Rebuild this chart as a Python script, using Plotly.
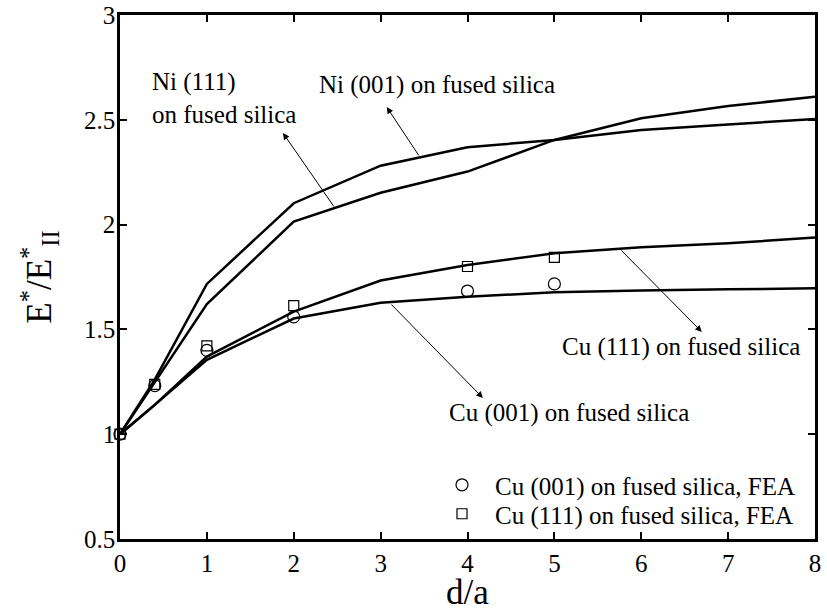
import plotly.graph_objects as go

# ---- data ----
x_model = [0, 0.4, 1, 2, 3, 4, 5, 6, 7, 8]
ni001 = [1.0, 1.26, 1.717, 2.102, 2.281, 2.369, 2.404, 2.451, 2.478, 2.504]
ni111 = [1.0, 1.25, 1.621, 2.014, 2.152, 2.253, 2.404, 2.507, 2.566, 2.610]
cu111 = [1.0, 1.14, 1.370, 1.585, 1.733, 1.807, 1.863, 1.892, 1.911, 1.938]
cu001 = [1.0, 1.14, 1.355, 1.552, 1.627, 1.656, 1.677, 1.686, 1.691, 1.696]

x_fea = [0, 0.4, 1, 2, 4, 5]
cu001_fea = [1.0, 1.232, 1.400, 1.560, 1.683, 1.717]
cu111_fea = [1.0, 1.238, 1.421, 1.613, 1.800, 1.844]

x_ticks = [0, 1, 2, 3, 4, 5, 6, 7, 8]
y_ticks = [0.5, 1, 1.5, 2, 2.5, 3]

FONT = "Liberation Serif"

fig = go.Figure()
line_style = dict(color="black", width=2.5)
for yv in (ni001, ni111, cu111, cu001):
    fig.add_trace(go.Scatter(x=x_model, y=yv, mode="lines", line=line_style,
                             showlegend=False, hoverinfo="skip"))

fig.add_trace(go.Scatter(x=x_fea, y=cu001_fea, mode="markers",
                         name="Cu (001) on fused silica, FEA", legend="legend",
                         marker=dict(symbol="circle-open", size=12, color="black",
                                     line=dict(width=1.2, color="black")),
                         cliponaxis=False))
fig.add_trace(go.Scatter(x=x_fea, y=cu111_fea, mode="markers",
                         name="Cu (111) on fused silica, FEA", legend="legend2",
                         marker=dict(symbol="square-open", size=10, color="black",
                                     line=dict(width=1.2, color="black")),
                         cliponaxis=False))

# text labels
labels = [
    ("Ni (001) on fused silica", 2.267, 2.666),
    ("Ni (111)<br>on fused silica", 0.345, 2.606),
    ("Cu (111) on fused silica", 5.063, 1.416),
    ("Cu (001) on fused silica", 3.763, 1.101),
]
for txt, tx, ty in labels:
    fig.add_annotation(x=tx, y=ty, xref="x", yref="y", text=txt, showarrow=False,
                       xanchor="left", yanchor="middle", align="left",
                       font=dict(family=FONT, size=25, color="black"))

# arrows: (head_x, head_y, tail_x, tail_y)
arrows = [
    (3.07, 2.561, 3.45, 2.323),
    (1.876, 2.437, 2.474, 2.079),
    (6.697, 1.488, 5.754, 1.884),
    (4.177, 1.173, 3.107, 1.626),
]
for hx, hy, tx, ty in arrows:
    fig.add_annotation(x=hx, y=hy, ax=tx, ay=ty, xref="x", yref="y",
                       axref="x", ayref="y", text="", showarrow=True,
                       arrowhead=2, arrowsize=1.3, arrowwidth=1,
                       arrowcolor="black", standoff=0, startstandoff=0)

axis_common = dict(showline=True, linecolor="black", linewidth=2.5, mirror="ticks",
                   ticks="inside", ticklen=7, tickwidth=2, tickcolor="black",
                   showgrid=False, zeroline=False, automargin=False,
                   tickfont=dict(family=FONT, size=25, color="black"))

fig.update_xaxes(range=[0, 8], tickvals=x_ticks, ticktext=[str(v) for v in x_ticks],
                 title=dict(text="d/a", font=dict(family=FONT, size=35, color="black"),
                            standoff=7),
                 **axis_common)
fig.update_yaxes(range=[0.5, 3], tickvals=y_ticks,
                 ticktext=["0.5", "1", "1.5", "2", "2.5", "3"],
                 ticklabelstandoff=-3,
                 title=dict(text="E<sup>*</sup>/E<sup>*</sup><sub>II</sub>",
                            font=dict(family=FONT, size=35, color="black"),
                            standoff=22),
                 **axis_common)

leg_common = dict(xanchor="left", yanchor="middle", bgcolor="rgba(0,0,0,0)",
                  borderwidth=0, itemwidth=56,
                  font=dict(family=FONT, size=25, color="black"))
fig.update_layout(
    width=827, height=612,
    margin=dict(l=120, r=12, t=15, b=73),
    paper_bgcolor="white", plot_bgcolor="white",
    font=dict(family=FONT, size=25, color="black"),
    legend=dict(x=0.4446, y=0.103, **leg_common),
    legend2=dict(x=0.4446, y=0.0477, **leg_common),
)

fig.write_html("out.html")
